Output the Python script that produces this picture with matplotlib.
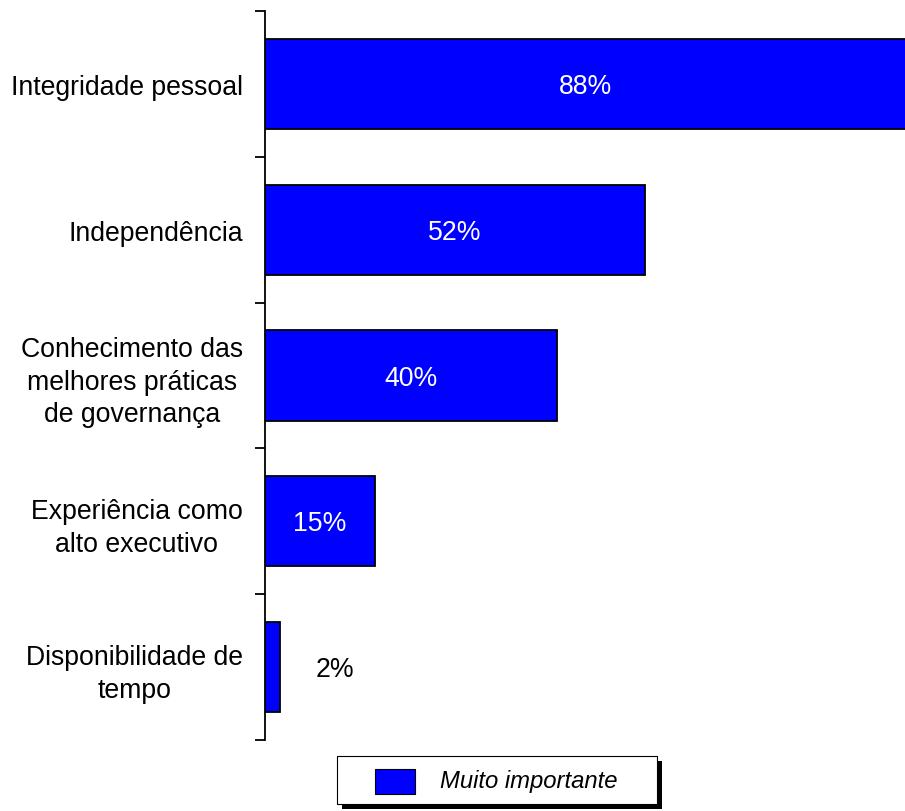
import matplotlib
matplotlib.use('Agg')
import matplotlib.pyplot as plt
from matplotlib.patches import Rectangle

plt.rcParams['font.family'] = ['Liberation Sans', 'DejaVu Sans']

categories = [
    'Integridade pessoal',
    'Independência',
    'Conhecimento das\nmelhores práticas\nde governança',
    'Experiência como\nalto executivo',
    'Disponibilidade de\ntempo',
]
values = [88, 52, 40, 15, 2]
series_name = 'Muito importante'

BLUE = '#0000FF'
FS = 19.2

fig = plt.figure(figsize=(9.05, 8.12), dpi=100)
ax = fig.add_axes([265 / 905, 71 / 812, 1 - 265 / 905, (741 - 12) / 812])

pos = list(range(len(categories)))
bars = ax.barh(pos, values, height=0.62, color=BLUE, edgecolor='black', linewidth=1.3)

ax.set_xlim(0, 87.6)
ax.set_ylim(len(categories) - 0.5, -0.5)

for b, v in zip(bars, values):
    y = b.get_y() + b.get_height() / 2 + 0.015
    if v >= 5:
        xc = min(v, ax.get_xlim()[1]) / 2
        ax.text(xc, y, f'{v}%', ha='center', va='center', color='white', fontsize=FS)
    else:
        ax.text(v + 7.6, y, f'{v}%', ha='center', va='center', color='black', fontsize=FS)

# category labels at bar centres, tick marks at the boundaries between them
ax.set_yticks(pos)
ax.set_yticklabels(categories, fontsize=FS, multialignment='center', linespacing=1.33)
ax.set_yticks([p - 0.5 for p in pos] + [len(pos) - 0.5], minor=True)
ax.tick_params(axis='y', which='major', length=0, pad=16)
ax.tick_params(axis='y', which='minor', length=7, width=1.3, direction='out')
ax.set_xticks([])

for side in ('top', 'right', 'bottom'):
    ax.spines[side].set_visible(False)
ax.spines['left'].set_linewidth(1.3)

# legend box with a solid drop shadow
W, H = 905, 812
bx, by, bw, bh = 337, 757, 320, 48
fig.patches.append(Rectangle(((bx + 5) / W, 1 - (by + bh + 5) / H), bw / W, bh / H,
                             transform=fig.transFigure, facecolor='black', edgecolor='none'))
fig.patches.append(Rectangle((bx / W, 1 - (by + bh) / H), bw / W, bh / H,
                             transform=fig.transFigure, facecolor='white',
                             edgecolor='black', linewidth=0.8))
fig.patches.append(Rectangle((375 / W, 1 - 795 / H), 40 / W, 25 / H,
                             transform=fig.transFigure, facecolor=BLUE,
                             edgecolor='black', linewidth=0.8))
fig.text(440 / W, 1 - 782 / H, series_name, ha='left', va='center',
         fontsize=17.2, style='italic')

fig.savefig('out.png', dpi=100)
